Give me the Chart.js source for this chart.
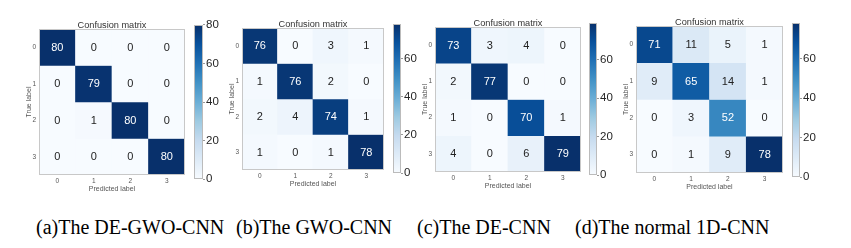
<!DOCTYPE html>
<html lang="en">
<head>
  <meta charset="UTF-8">
  <title>Confusion matrices</title>
  <script src="https://cdn.jsdelivr.net/npm/chart.js"></script>
  <style>
    body {
      margin: 0;
      padding: 0;
      background-color: #ffffff;
    }
    #page {
      position: relative;
      width: 851px;
      height: 248px;
      background-color: #ffffff;
      overflow: hidden;
    }
    canvas {
      position: absolute;
    }
    .caption {
      position: absolute;
      top: 216px;
      font-family: "Liberation Serif", "Times New Roman", serif;
      font-size: 20px;
      color: #000;
      white-space: nowrap;
    }
  </style>
</head>
<body>
  <div id="page">
    <canvas id="cm-a"></canvas><canvas id="cb-a"></canvas>
    <canvas id="cm-b"></canvas><canvas id="cb-b"></canvas>
    <canvas id="cm-c"></canvas><canvas id="cb-c"></canvas>
    <canvas id="cm-d"></canvas><canvas id="cb-d"></canvas>
    <div class="caption" style="left:36px">(a)The DE-GWO-CNN</div>
    <div class="caption" style="left:236px">(b)The GWO-CNN</div>
    <div class="caption" style="left:417px">(c)The DE-CNN</div>
    <div class="caption" style="left:575px">(d)The normal 1D-CNN</div>
  </div>

  <script>
    // class labels (predicted on x, true on y)
    const classLabels = ["0", "1", "2", "3"];

    // confusion matrices, rows = true label, cols = predicted label
    const matrixA = [[80, 0, 0, 0], [0, 79, 0, 0], [0, 1, 80, 0], [0, 0, 0, 80]];
    const matrixB = [[76, 0, 3, 1], [1, 76, 2, 0], [2, 4, 74, 1], [1, 0, 1, 78]];
    const matrixC = [[73, 3, 4, 0], [2, 77, 0, 0], [1, 0, 70, 1], [4, 0, 6, 79]];
    const matrixD = [[71, 11, 5, 1], [9, 65, 14, 1], [0, 3, 52, 0], [0, 1, 9, 78]];

    // colorbar ranges and tick values
    const colorMax = [80, 78, 79, 78];
    const colorbarTicks = [0, 20, 40, 60, 80];

    // matplotlib "Blues"
    const BLUES = ["#f7fbff", "#deebf7", "#c6dbef", "#9ecae1", "#6baed6",
                   "#4292c6", "#2171b5", "#08519c", "#08306b"];

    function hexToRgb(h) {
      return [parseInt(h.slice(1, 3), 16), parseInt(h.slice(3, 5), 16), parseInt(h.slice(5, 7), 16)];
    }

    function blues(t) {
      t = Math.max(0, Math.min(1, t));
      const pos = t * (BLUES.length - 1);
      const i = Math.min(Math.floor(pos), BLUES.length - 2);
      const f = pos - i;
      const a = hexToRgb(BLUES[i]), b = hexToRgb(BLUES[i + 1]);
      const c = a.map((v, k) => Math.round(v + (b[k] - v) * f));
      return `rgb(${c[0]},${c[1]},${c[2]})`;
    }

    const SANS = "'Liberation Sans', Arial, sans-serif";

    // frame around the chart area
    const framePlugin = {
      id: "frame",
      afterDatasetsDraw(chart, args, opts) {
        const { ctx, chartArea: a } = chart;
        ctx.save();
        ctx.strokeStyle = opts.color || "#c8c8c8";
        ctx.lineWidth = 1;
        ctx.strokeRect(Math.round(a.left) + 0.5, Math.round(a.top) + 0.5,
                       Math.round(a.right - a.left) - 1, Math.round(a.bottom - a.top) - 1);
        ctx.restore();
      }
    };

    // numbers inside the cells + the title just above the frame
    const cellTextPlugin = {
      id: "cellText",
      afterDatasetsDraw(chart, args, opts) {
        const ctx = chart.ctx;
        const a = chart.chartArea;
        ctx.save();
        ctx.font = `11px ${SANS}`;
        ctx.textAlign = "center";
        ctx.textBaseline = "middle";
        chart.data.datasets.forEach((ds, di) => {
          chart.getDatasetMeta(di).data.forEach((bar, j) => {
            const v = ds.values[j];
            ctx.fillStyle = v > opts.vmax / 2 ? "#ffffff" : "#222222";
            ctx.fillText(String(v), bar.x, (bar.y + bar.base) / 2 + 0.5);
          });
        });
        ctx.font = `9.2px ${SANS}`;
        ctx.fillStyle = "#333333";
        ctx.textBaseline = "alphabetic";
        ctx.fillText(opts.title, (a.left + a.right) / 2, a.top - 1);
        ctx.restore();
      }
    };

    function placeCanvas(id, left, top, w, h) {
      const c = document.getElementById(id);
      c.width = w;
      c.height = h;
      c.style.left = left + "px";
      c.style.top = top + "px";
      c.style.width = w + "px";
      c.style.height = h + "px";
      return c;
    }

    function drawMatrix(id, matrix, vmax, box) {
      const padL = 14, padT = 14, padR = 4, padB = 18;
      const canvas = placeCanvas(id, box.x - padL, box.y - padT,
                                 box.w + padL + padR, box.h + padT + padB);

      const datasets = matrix.map((row, r) => ({
        data: row.map(() => [r, r + 1]),
        values: row,
        backgroundColor: row.map(v => blues(v / vmax)),
        borderWidth: 0,
        barPercentage: 1,
        categoryPercentage: 1,
        grouped: false
      }));

      new Chart(canvas, {
        type: "bar",
        data: { labels: classLabels, datasets },
        options: {
          responsive: false,
          maintainAspectRatio: false,
          animation: false,
          layout: { padding: { top: padT, right: padR } },
          plugins: {
            legend: { display: false },
            tooltip: { enabled: false },
            frame: { color: "#c8c8c8" },
            cellText: { vmax, title: "Confusion matrix" }
          },
          scales: {
            x: {
              type: "category",
              grid: { display: false, drawTicks: false },
              border: { display: false },
              ticks: { color: "#555555", font: { family: SANS, size: 6.5 }, padding: 2 },
              title: {
                display: true, text: "Predicted label", color: "#555555",
                font: { family: SANS, size: 7 }, padding: 0
              },
              afterFit(scale) { scale.height = padB; }
            },
            y: {
              type: "linear",
              min: 0,
              max: classLabels.length,
              reverse: true,
              grid: { display: false, drawTicks: false },
              border: { display: false },
              afterBuildTicks(scale) {
                scale.ticks = classLabels.map((_, i) => ({ value: i + 0.5 }));
              },
              ticks: {
                color: "#555555",
                font: { family: SANS, size: 6.5 },
                padding: 3,
                callback: v => classLabels[Math.floor(v)]
              },
              title: {
                display: true, text: "True label", color: "#555555",
                font: { family: SANS, size: 7 }, padding: 0
              },
              afterFit(scale) { scale.width = padL; }
            }
          }
        },
        plugins: [cellTextPlugin, framePlugin]
      });
    }

    function drawColorbar(id, vmax, box) {
      const padL = 2, padT = 7, padB = 7, axisW = 24;
      const canvas = placeCanvas(id, box.x - padL, box.y - padT,
                                 box.w + padL + axisW, box.h + padT + padB);

      new Chart(canvas, {
        type: "bar",
        data: {
          labels: [""],
          datasets: [{
            data: [[0, vmax]],
            backgroundColor(ctx) {
              const a = ctx.chart.chartArea;
              if (!a) return BLUES[4];
              const g = ctx.chart.ctx.createLinearGradient(0, a.bottom, 0, a.top);
              BLUES.forEach((c, i) => g.addColorStop(i / (BLUES.length - 1), c));
              return g;
            },
            borderWidth: 0,
            barPercentage: 1,
            categoryPercentage: 1
          }]
        },
        options: {
          responsive: false,
          maintainAspectRatio: false,
          animation: false,
          layout: { padding: { left: padL, top: padT, bottom: padB } },
          plugins: {
            legend: { display: false },
            tooltip: { enabled: false },
            frame: { color: "#bbbbbb" }
          },
          scales: {
            x: { display: false },
            y: {
              position: "right",
              min: 0,
              max: vmax,
              afterBuildTicks(scale) {
                scale.ticks = colorbarTicks.filter(t => t <= vmax).map(t => ({ value: t }));
              },
              grid: { drawOnChartArea: false, drawTicks: true, tickLength: 2, color: "#999999" },
              border: { display: false },
              ticks: { color: "#262626", font: { family: SANS, size: 11.5 }, padding: 1 },
              afterFit(scale) { scale.width = axisW; }
            }
          }
        },
        plugins: [framePlugin]
      });
    }

    drawMatrix("cm-a", matrixA, colorMax[0], { x: 39, y: 29, w: 146, h: 146 });
    drawColorbar("cb-a", colorMax[0], { x: 194, y: 24, w: 9, h: 156 });

    drawMatrix("cm-b", matrixB, colorMax[1], { x: 242, y: 28, w: 142, h: 142 });
    drawColorbar("cb-b", colorMax[1], { x: 393, y: 23, w: 8, h: 151 });

    drawMatrix("cm-c", matrixC, colorMax[2], { x: 435, y: 27, w: 146, h: 145 });
    drawColorbar("cb-c", colorMax[2], { x: 589, y: 22, w: 8, h: 154 });

    drawMatrix("cm-d", matrixD, colorMax[3], { x: 636, y: 26, w: 147, h: 147 });
    drawColorbar("cb-d", colorMax[3], { x: 792, y: 22, w: 8, h: 156 });
  </script>
</body>
</html>
